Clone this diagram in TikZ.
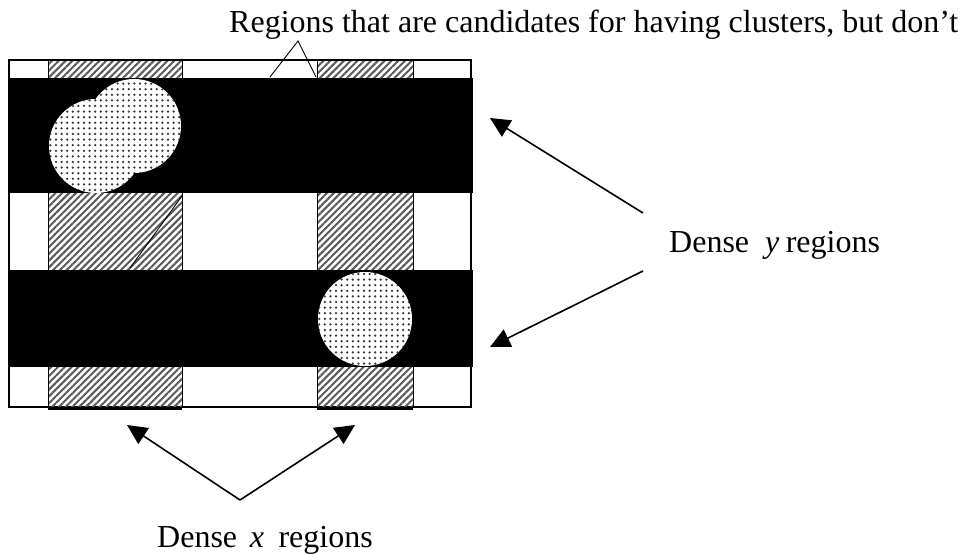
\documentclass[tikz,border=0pt]{standalone}
\usepackage{fontspec}
\setmainfont{Liberation Serif}
\usetikzlibrary{patterns.meta,arrows.meta}
\begin{document}
\begin{tikzpicture}[x=1pt,y=-1pt,
  hatch/.style={pattern={Lines[angle=45,distance=4.8pt,line width=2pt]},pattern color=black!65},
  dotfill/.style={preaction={fill=white},pattern={Dots[radius=1.25pt,distance=5.6pt]},pattern color=black!80},
  band/.style={fill=black},
  frame/.style={draw=black,line width=1.3pt},
  colframe/.style={draw=black,line width=1pt},
  leader/.style={draw=black,line width=0.9pt},
  arr/.style={draw=black,line width=1.6pt,-{Triangle[length=20pt,width=19pt]}},
  lbl/.style={font=\fontsize{32}{38}\selectfont,inner sep=0pt,anchor=base west}]
\useasboundingbox (0,0) rectangle (961,554);
% outer frame
\draw[frame] (9,60) rectangle (471,407);
% dense x columns
\path[hatch,colframe] (48,60) rectangle (182,407);
\path[hatch,colframe] (317,60) rectangle (413,407);
\draw[line width=3pt] (48,408) -- (182,408);
\draw[line width=3pt] (317,408) -- (413,408);
% leader inside left column
\coordinate (dA) at (182,196);
\coordinate (dB) at (130,268);
\draw[leader] (dA) -- (dB);
% dense y bands
\fill[band] (8,78) rectangle (473,193);
\fill[band] (8,270) rectangle (473,367);
% clusters
\path[dotfill] (134,126) circle[radius=47pt];
\path[dotfill] (96,146) circle[radius=47pt];
\path[dotfill] (365,319) circle[radius=47pt];
% labels
\node[lbl] (top) at (229,32) {Regions that are candidates for having clusters, but don’t};
\node[lbl] (ylab) at (669,252) {Dense\hspace{0.5em}\textit{y}\hspace{0.2em}regions};
\node[lbl] (xlab) at (157,547) {Dense\hspace{0.4em}\textit{x}\hspace{0.45em}regions};
% callout for candidate regions
\coordinate (apex) at (298,41);
\coordinate (legL) at (270,77);
\coordinate (legR) at (316,77);
\draw[leader] (legL) -- (apex) -- (legR);
% dense y arrows
\coordinate (ysrcA) at (643,213);
\coordinate (ytipA) at (490,118);
\coordinate (ysrcB) at (643,271);
\coordinate (ytipB) at (490,347);
\draw[arr] (ysrcA) -- (ytipA);
\draw[arr] (ysrcB) -- (ytipB);
% dense x arrows
\coordinate (xapex) at (240,500);
\coordinate (xtipA) at (127,425);
\coordinate (xtipB) at (355,425);
\draw[arr] (xapex) -- (xtipA);
\draw[arr] (xapex) -- (xtipB);
\end{tikzpicture}
\end{document}
